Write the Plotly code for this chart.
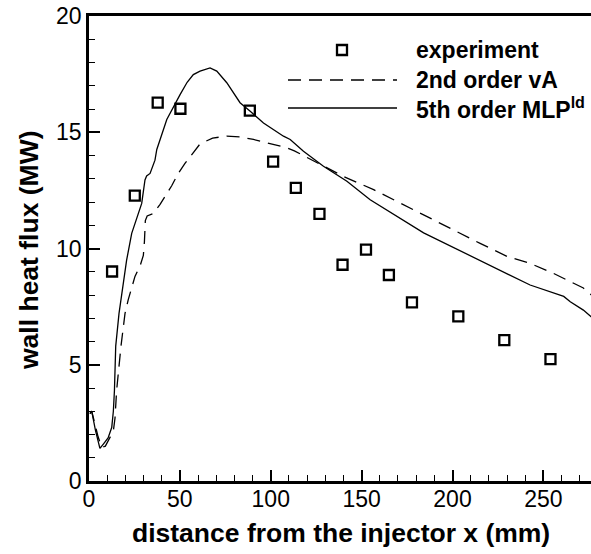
import plotly.graph_objects as go

# ---------------- data ----------------
exp_x = [12.7, 25.2, 37.8, 50.3, 88.5, 101.3, 113.8, 126.8, 139.5, 152.4, 165.0, 177.7, 203.2, 228.5, 253.9]
exp_y = [9.01, 12.27, 16.27, 16.01, 15.93, 13.74, 12.61, 11.49, 9.30, 9.95, 8.86, 7.68, 7.08, 6.06, 5.24]

va_x = [0.5, 1.5, 5.0, 7.0, 9.0, 11.0, 13.4, 14.3, 15.2, 17.6, 19.8, 21.6, 23.5, 25.3, 28.1, 29.9,
        30.5, 31.0, 32.0, 35.4, 39.1, 42.8, 45.5, 49.1, 52.8, 61.1, 68.0, 75.8, 83.0, 90.5, 100.0,
        108.9, 113.0, 125.4, 140.0, 156.6, 175.0, 193.3, 215.2, 230.0, 242.7, 255.0, 266.7, 272.0, 278.0]
va_y = [2.9, 3.0, 1.9, 1.45, 1.5, 1.8, 2.15, 2.7, 3.9, 5.8, 7.2, 7.8, 8.3, 8.8, 9.25, 9.7,
        10.3, 11.2, 11.4, 11.5, 11.9, 12.37, 12.7, 13.23, 13.66, 14.5, 14.75, 14.83, 14.8, 14.69, 14.5,
        14.33, 14.2, 13.68, 13.1, 12.53, 11.8, 11.1, 10.22, 9.66, 9.36, 8.95, 8.51, 8.3, 7.9]

mlp_x = [0.5, 1.5, 3.5, 6.0, 8.0, 10.5, 12.5, 13.4, 14.0, 14.7, 16.5, 18.0, 20.7, 23.5, 27.1, 29.0,
         30.8, 31.7, 33.6, 36.3, 37.3, 42.8, 50.1, 54.0, 57.4, 61.1, 66.6, 70.3, 75.8, 83.1, 88.7,
         96.0, 107.0, 110.7, 118.0, 129.0, 141.9, 154.7, 184.1, 215.2, 242.7, 261.2, 264.8, 272.0, 278.0]
mlp_y = [2.9, 3.0, 2.2, 1.4, 1.6, 1.85, 2.3, 3.0, 3.9, 5.8, 7.2, 8.1, 9.5, 10.65, 11.5, 11.94,
         12.95, 13.12, 13.23, 13.8, 14.26, 15.55, 16.62, 17.15, 17.48, 17.63, 17.77, 17.63, 17.13, 16.27, 15.9,
         15.4, 14.83, 14.69, 14.18, 13.54, 12.89, 12.1, 10.67, 9.5, 8.43, 7.94, 7.71, 7.35, 6.95]

legend_labels = ["experiment", "2nd order vA", "5th order MLP<sup>ld</sup>"]

x_title = "distance from the injector x (mm)"
y_title = "wall heat flux (MW)"

FONT = "Liberation Sans, Arial, sans-serif"

# ---------------- layout geometry ----------------
W, H = 591, 554
L, R, T, B = 89, 0, 16, 73
PW, PH = W - L - R, H - T - B


def px(xp):
    return (xp - L) / PW


def py(yp):
    return (H - B - yp) / PH


fig = go.Figure()

fig.add_trace(go.Scatter(x=va_x, y=va_y, mode="lines", name=legend_labels[1],
                         line=dict(color="black", width=1.3, dash="13px,8px"),
                         showlegend=False))
fig.add_trace(go.Scatter(x=mlp_x, y=mlp_y, mode="lines", name=legend_labels[2],
                         line=dict(color="black", width=1.3),
                         showlegend=False))
fig.add_trace(go.Scatter(x=exp_x, y=exp_y, mode="markers", name=legend_labels[0],
                         marker=dict(symbol="square-open", size=10, color="black",
                                     line=dict(color="black", width=2.3)),
                         showlegend=False))

# ---------------- manual legend ----------------
shapes = []
annotations = []
rows_y = [50, 80, 108]
sq = 5
shapes.append(dict(type="rect", xref="paper", yref="paper",
                   x0=px(342 - sq), x1=px(342 + sq), y0=py(rows_y[0] + sq), y1=py(rows_y[0] - sq),
                   line=dict(color="black", width=2.3), fillcolor="rgba(0,0,0,0)"))
shapes.append(dict(type="line", xref="paper", yref="paper",
                   x0=px(288), x1=px(397), y0=py(rows_y[1]), y1=py(rows_y[1]),
                   line=dict(color="black", width=1.3, dash="13px,8px")))
shapes.append(dict(type="line", xref="paper", yref="paper",
                   x0=px(288), x1=px(397), y0=py(rows_y[2]), y1=py(rows_y[2]),
                   line=dict(color="black", width=1.3)))
for lab, ry in zip(legend_labels, rows_y):
    annotations.append(dict(text="<b>" + lab + "</b>", xref="paper", yref="paper",
                            x=px(414), y=py(ry), xanchor="left", yanchor="middle",
                            showarrow=False, font=dict(family=FONT, size=23, color="black")))

# axis titles
annotations.append(dict(text="<b>" + x_title + "</b>", xref="paper", yref="paper",
                        x=px(341), y=py(533), xanchor="center", yanchor="middle",
                        showarrow=False, font=dict(family=FONT, size=26.5, color="black")))
annotations.append(dict(text="<b>" + y_title + "</b>", xref="paper", yref="paper",
                        x=px(29), y=py(250), xanchor="center", yanchor="middle", textangle=-90,
                        showarrow=False, font=dict(family=FONT, size=26.5, color="black")))

fig.update_layout(
    width=W, height=H,
    margin=dict(l=L, r=R, t=T, b=B, pad=0),
    paper_bgcolor="white", plot_bgcolor="white",
    font=dict(family=FONT, size=23, color="black"),
    shapes=shapes, annotations=annotations,
    showlegend=False,
)
fig.update_xaxes(range=[0, 276.2], tick0=0, dtick=50, ticks="inside", ticklen=11, tickwidth=1.6,
                 tickcolor="black", showline=True, linewidth=2.5, linecolor="black", mirror=True,
                 showgrid=False, zeroline=False, ticklabelstandoff=-4,
                 tickfont=dict(family=FONT, size=23, color="black"),
                 minor=dict(dtick=10, ticks="inside", ticklen=6, tickwidth=1.3, tickcolor="black", showgrid=False))
fig.update_yaxes(range=[0, 20], tick0=0, dtick=5, ticks="inside", ticklen=11, tickwidth=1.6,
                 tickcolor="black", showline=True, linewidth=2.5, linecolor="black", mirror=False,
                 showgrid=False, zeroline=False,
                 tickfont=dict(family=FONT, size=23, color="black"),
                 minor=dict(dtick=1, ticks="inside", ticklen=6, tickwidth=1.3, tickcolor="black", showgrid=False))

fig.write_html("out.html")
